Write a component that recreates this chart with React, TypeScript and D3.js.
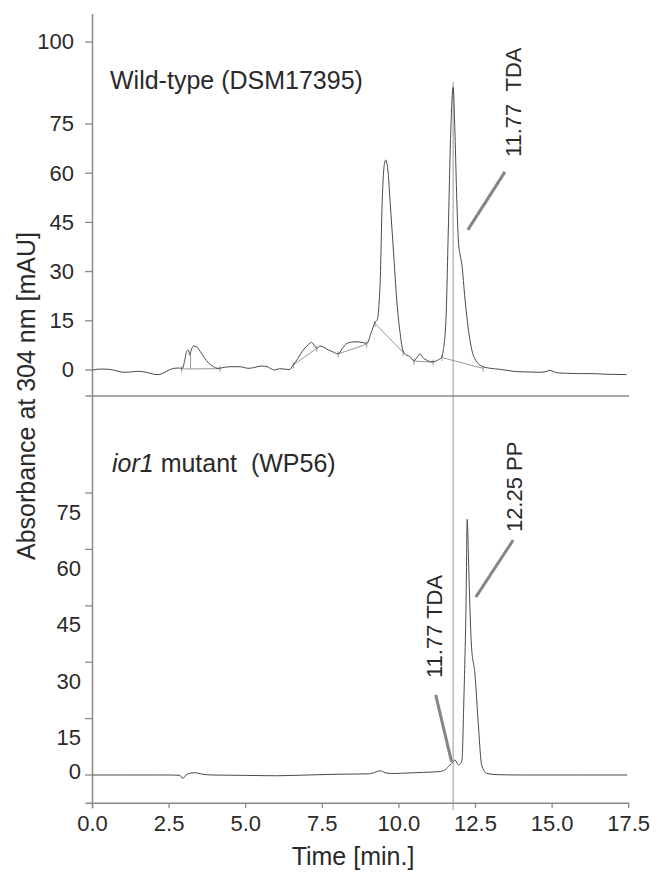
import React from "react";
import * as d3 from "d3";

// ---------- data ----------
const xTickValues = [0, 2.5, 5, 7.5, 10, 12.5, 15, 17.5];
const topTickValues = [0, 15, 30, 45, 60, 75, 100];
const bottomTickValues = [0, 15, 30, 45, 60, 75];

const wtTime = [
  0.0, 0.3, 0.55, 0.8, 1.0, 1.25, 1.5, 1.75, 2.0, 2.15, 2.3, 2.5, 2.65, 2.8, 2.94,
  3.0, 3.08, 3.13, 3.18, 3.22, 3.3, 3.38, 3.52, 3.65, 3.8, 3.95, 4.1, 4.3, 4.5,
  4.8, 5.1, 5.3, 5.5, 5.7, 5.8, 5.95, 6.1, 6.25, 6.42, 6.55, 6.7, 6.88, 7.05, 7.15,
  7.25, 7.32, 7.42, 7.55, 7.7, 7.85, 8.02, 8.15, 8.3, 8.45, 8.6, 8.8, 8.95, 9.1,
  9.22, 9.3, 9.35, 9.4, 9.44, 9.49, 9.53, 9.57, 9.61, 9.65, 9.71, 9.82, 9.93,
  10.04, 10.14, 10.25, 10.36, 10.49, 10.6, 10.69, 10.77, 10.85, 11.0, 11.12, 11.3,
  11.4, 11.45, 11.54, 11.61, 11.69, 11.77, 11.83, 11.89, 11.94, 12.0, 12.05, 12.16,
  12.27, 12.38, 12.54, 12.75, 13.0, 13.3, 13.6, 13.84, 14.2, 14.6, 14.8, 14.93,
  15.05, 15.2, 15.48, 15.9, 16.24, 16.8, 17.43,
];
const wtAbs = [
  0.0, 0.3, 0.2, -0.3, -0.7, -0.6, -0.4, -0.7, -1.3, -1.4, -1.0, 0.0, 0.5, 0.6, 0.5,
  2.5, 5.8, 6.1, 4.5, 6.0, 7.3, 7.2, 5.6, 3.8, 2.0, 1.0, 0.5, 0.8, 1.0,
  1.0, 0.5, 0.8, 1.2, 1.0, 0.5, 0.0, 0.4, 0.3, 0.1, 1.5, 3.5, 6.1, 7.8, 8.4,
  7.3, 6.6, 7.3, 6.9, 6.1, 5.5, 4.9, 6.5, 8.1, 8.5, 8.6, 8.4, 8.1, 11.5,
  14.5, 15.5, 20, 30, 46.7, 58.9, 63, 64.0, 63, 60, 51.8, 36.6, 21.3,
  11.2, 5.6, 4.5, 4.1, 2.8, 4.0, 4.9, 3.8, 3.3, 2.6, 2.5, 3.2,
  3.9, 6.1, 16.3, 41.7, 72, 86.2, 72, 51.8, 39.6, 35, 32.5, 21.3,
  12.2, 6.1, 2.5, 1.0, 0.5, 0.2, -0.2, -0.5, -0.6, -0.7, -0.5, -0.1,
  -0.5, -0.9, -1.0, -1.1, -1.1, -1.3, -1.4,
];

// integration baselines of the wild-type run: [t1, v1, t2, v2]
const wtBaselines = [
  [2.91, 0.3, 4.16, 0.4],
  [6.55, 1.5, 7.32, 6.6],
  [8.02, 4.9, 8.95, 7.9],
  [9.22, 14.2, 10.14, 5.3],
  [10.49, 2.7, 11.12, 2.4],
  [11.4, 3.8, 12.75, 0.5],
];
const wtDropLines = [[3.2, 4.6, 0.35]]; // [t, vTop, vBottom]
const wtBaseMarks = [
  [2.91, 0.3], [4.16, 0.4], [6.55, 1.5], [7.32, 6.6], [8.02, 4.9], [8.95, 7.9],
  [9.22, 14.2], [10.14, 5.3], [10.49, 2.7], [11.12, 2.4], [11.4, 3.8], [12.75, 0.5],
];

const mutTime = [
  0, 1.0, 2.0, 2.5, 2.85, 2.95, 3.02, 3.15, 3.35, 3.6, 3.9, 5.0, 6.0, 7.0, 8.0,
  9.0, 9.15, 9.3, 9.4, 9.55, 9.75, 10.2, 10.8, 11.3, 11.5, 11.62, 11.72, 11.83,
  11.94, 12.02, 12.06, 12.12, 12.19, 12.23, 12.27, 12.3, 12.37, 12.48, 12.59,
  12.7, 12.87, 13.2, 14.0, 15.0, 16.0, 17.45,
];
const mutAbs = [
  0, 0, 0, 0, -0.1, -0.9, -0.3, 0.4, 0.6, 0.2, 0, -0.1, -0.2, 0, 0.2,
  0.3, 0.5, 1.0, 1.1, 0.6, 0.4, 0.5, 0.7, 0.9, 1.3, 2.3, 3.1, 4.0,
  2.7, 3.1, 4.0, 20, 45, 68, 58, 49.2, 34.1, 27, 13.8,
  2.7, 0.4, 0.1, 0, 0, 0, 0,
];

const topTitle = "Wild-type (DSM17395)";
const xTitle = "Time [min.]";
const yTitle = "Absorbance at 304 nm [mAU]";
const refTime = 11.77;

// annotations: text, text anchor (t, v), leader from (t, v) to (t, v)
const topAnnotations = [
  { text: "11.77\u00a0\u00a0TDA", t: 13.98, v: 64.9, l: [13.46, 60.4, 12.25, 42.7] },
];
const bottomAnnotations = [
  { text: "11.77 TDA", t: 11.41, v: 25.8, l: [11.2, 21.3, 11.72, 3.5] },
  { text: "12.25 PP", t: 14.02, v: 64.6, l: [13.73, 62.5, 12.51, 47.3] },
];

// ---------- layout ----------
const W = 661;
const H = 873;
const FONT = "'Liberation Sans', Arial, Helvetica, sans-serif";
const TEXT = "#2a2a2a";
const AXIS = "#8a8a8a";
const TRACE = "#4a4a4a";

export default function App() {
  const x = d3.scaleLinear().domain([0, 17.5]).range([92.5, 628.7]);
  const yTop = d3.scaleLinear().domain([-7.9, 108.5]).range([395.9, 14.1]);
  const yBot = d3.scaleLinear().domain([-7.5, 100.8]).range([803.2, 396]);

  const lineTop = d3
    .line<number>()
    .x((_, i) => x(wtTime[i]))
    .y((d) => yTop(d))
    .curve(d3.curveMonotoneX);
  const lineBot = d3
    .line<number>()
    .x((_, i) => x(mutTime[i]))
    .y((d) => yBot(d))
    .curve(d3.curveMonotoneX);

  const axisX = x(0);
  const topAxisY = yTop(-7.9);
  const botAxisY = yBot(-7.5);
  const fmt = d3.format(".1f");

  return (
    <svg
      width={W}
      height={H}
      style={{ position: "absolute", left: 0, top: 0, background: "#fff" }}
      fontFamily={FONT}
    >
      <rect width={W} height={H} fill="#fff" />
      {/* reference line */}
      <line
        x1={x(refTime)}
        x2={x(refTime)}
        y1={yTop(87.8)}
        y2={botAxisY + 7}
        stroke="#9a9a9a"
        strokeWidth={1}
      />
      {/* y axis */}
      <line x1={axisX} x2={axisX} y1={yTop(108.5)} y2={botAxisY + 5} stroke={AXIS} strokeWidth={1.5} />
      {/* panel separator / x axes */}
      <line x1={axisX - 7} x2={x(17.5) + 0.5} y1={topAxisY} y2={topAxisY} stroke={AXIS} strokeWidth={1.5} />
      <line x1={axisX - 7} x2={x(17.5) + 0.5} y1={botAxisY} y2={botAxisY} stroke={AXIS} strokeWidth={1.5} />

      {/* top ticks */}
      {topTickValues.map((v) => (
        <g key={"tt" + v}>
          <line x1={axisX - 7.5} x2={axisX} y1={yTop(v)} y2={yTop(v)} stroke={AXIS} strokeWidth={1.3} />
          <text x={74} y={yTop(v) + 7.5} textAnchor="end" fontSize={22} fill={TEXT}>
            {v}
          </text>
        </g>
      ))}
      {/* bottom ticks */}
      {bottomTickValues.map((v) => (
        <g key={"bt" + v}>
          <line x1={axisX - 7.5} x2={axisX} y1={yBot(v)} y2={yBot(v)} stroke={AXIS} strokeWidth={1.3} />
          <text
            x={81}
            y={yBot(v) + 7.5 + (v === 0 ? -4 : 19)}
            textAnchor="end"
            fontSize={22}
            fill={TEXT}
          >
            {v}
          </text>
        </g>
      ))}
      {/* x ticks */}
      {xTickValues.map((t) => (
        <g key={"xt" + t}>
          <line x1={x(t)} x2={x(t)} y1={botAxisY} y2={botAxisY + 5} stroke={AXIS} strokeWidth={1.3} />
          <text x={x(t)} y={830.5} textAnchor="middle" fontSize={22} fill={TEXT}>
            {fmt(t)}
          </text>
        </g>
      ))}

      {/* axis titles */}
      <text x={353} y={865} textAnchor="middle" fontSize={25} fill={TEXT}>
        {xTitle}
      </text>
      <text
        transform={`translate(35,396) rotate(-90)`}
        textAnchor="middle"
        fontSize={25}
        fill={TEXT}
      >
        {yTitle}
      </text>

      {/* panel titles */}
      <text x={110} y={89} fontSize={25} fill={TEXT}>
        {topTitle}
      </text>
      <text x={112} y={472} fontSize={25} fill={TEXT} xmlSpace="preserve">
        <tspan fontStyle="italic">ior1</tspan>
        <tspan>{" mutant\u00a0\u00a0(WP56)"}</tspan>
      </text>

      {/* wild-type baselines */}
      {wtBaselines.map((b, i) => (
        <line
          key={"bl" + i}
          x1={x(b[0])}
          y1={yTop(b[1])}
          x2={x(b[2])}
          y2={yTop(b[3])}
          stroke="#8c8c8c"
          strokeWidth={0.9}
        />
      ))}
      {wtDropLines.map((d, i) => (
        <line key={"dl" + i} x1={x(d[0])} x2={x(d[0])} y1={yTop(d[1])} y2={yTop(d[2])} stroke="#8c8c8c" strokeWidth={0.9} />
      ))}
      {wtBaseMarks.map((m, i) => (
        <line
          key={"bm" + i}
          x1={x(m[0])}
          x2={x(m[0])}
          y1={yTop(m[1]) - 2.5}
          y2={yTop(m[1]) + 3.5}
          stroke="#8c8c8c"
          strokeWidth={0.9}
        />
      ))}

      {/* traces */}
      <path d={lineTop(wtAbs) || ""} fill="none" stroke={TRACE} strokeWidth={1} strokeLinejoin="round" />
      <path d={lineBot(mutAbs) || ""} fill="none" stroke={TRACE} strokeWidth={1} strokeLinejoin="round" />

      {/* annotations */}
      {topAnnotations.map((a, i) => (
        <g key={"ta" + i}>
          <line x1={x(a.l[0])} y1={yTop(a.l[1])} x2={x(a.l[2])} y2={yTop(a.l[3])} stroke="#858585" strokeWidth={3} />
          <text transform={`translate(${x(a.t)},${yTop(a.v)}) rotate(-90)`} fontSize={22} fill={TEXT}>
            {a.text}
          </text>
        </g>
      ))}
      {bottomAnnotations.map((a, i) => (
        <g key={"ba" + i}>
          <line x1={x(a.l[0])} y1={yBot(a.l[1])} x2={x(a.l[2])} y2={yBot(a.l[3])} stroke="#858585" strokeWidth={3} />
          <text transform={`translate(${x(a.t)},${yBot(a.v)}) rotate(-90)`} fontSize={22} fill={TEXT}>
            {a.text}
          </text>
        </g>
      ))}
    </svg>
  );
}
